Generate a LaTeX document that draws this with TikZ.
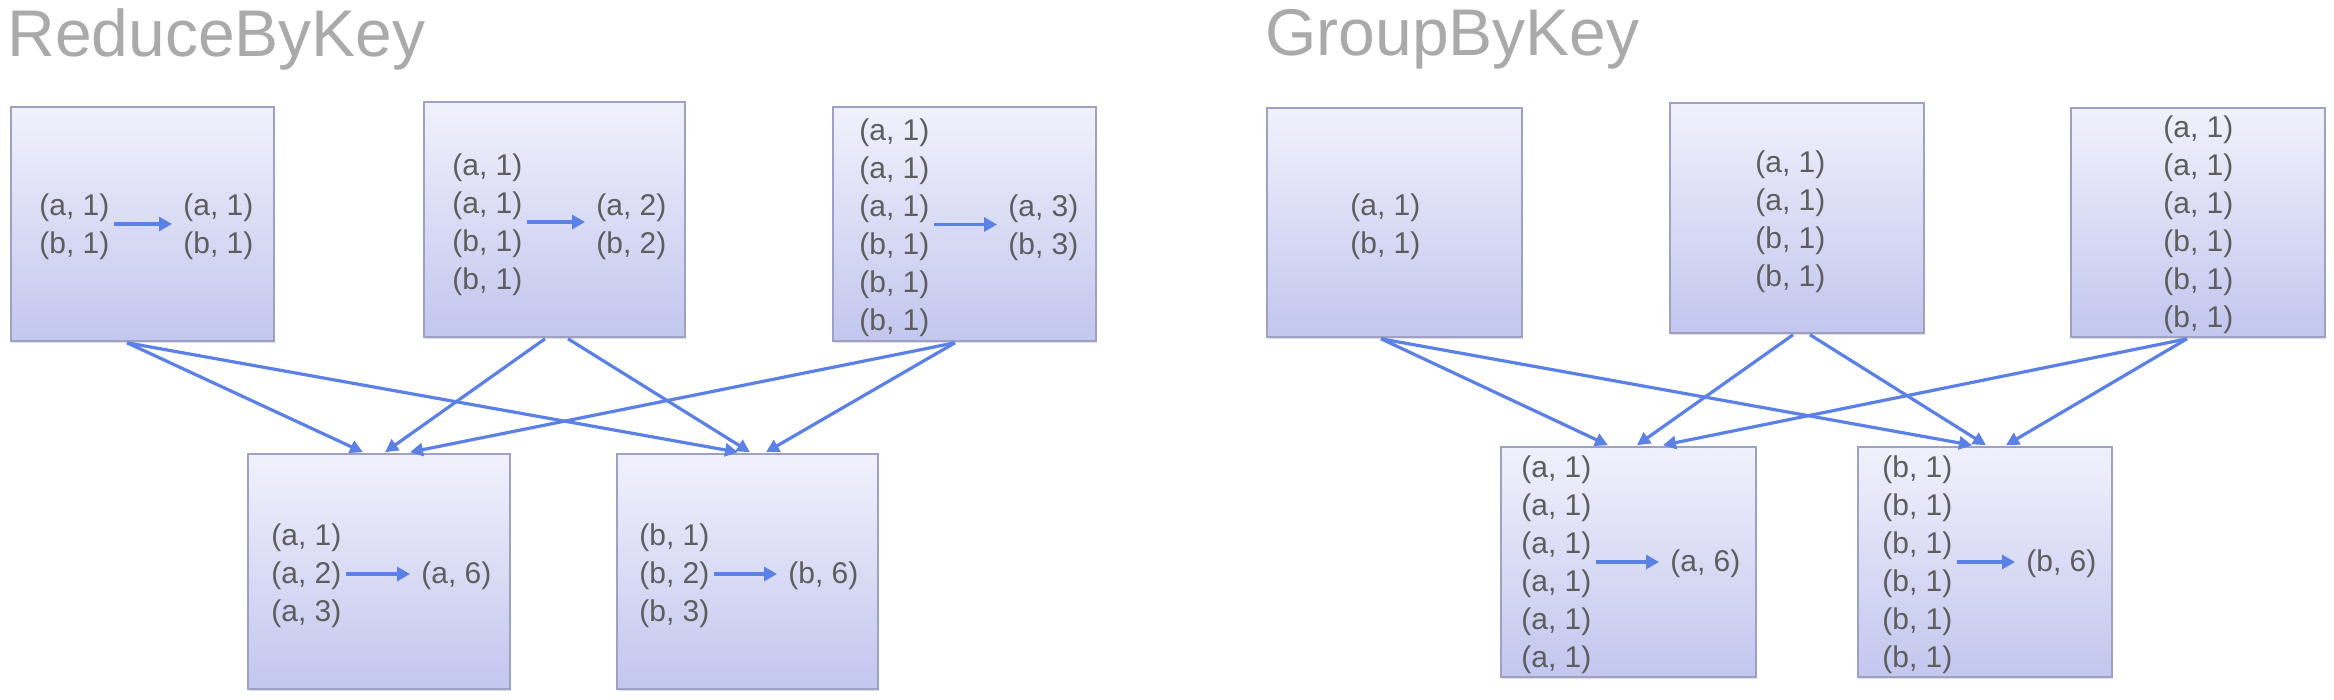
\documentclass[tikz,border=0pt]{standalone}
\usepackage{fontspec}
\setmainfont{Liberation Sans}
\usetikzlibrary{arrows.meta,shadows}
\definecolor{boxtop}{HTML}{F1F1FC}
\definecolor{boxbot}{HTML}{C3C6EE}
\definecolor{boxline}{HTML}{9EA0C4}
\definecolor{flow}{HTML}{5B80E6}
\definecolor{txt}{HTML}{5E5E5E}
\definecolor{ttl}{HTML}{AAAAAA}
\begin{document}
\begin{tikzpicture}[x=0.5pt,y=-0.5pt,
 part/.style={draw=boxline, line width=0.8pt, top color=boxtop, bottom color=boxbot, inner sep=0,
   drop shadow={shadow xshift=0.6pt, shadow yshift=-1pt, opacity=0.25}},
 pairs/.style={anchor=west, inner sep=0, align=left, text=txt, font=\fontsize{15}{19}\selectfont},
 title/.style={anchor=base west, inner sep=0, text=ttl, font=\fontsize{33}{38}\selectfont},
 combine/.style={-{Triangle[length=6.5pt,width=7pt]}, draw=flow, line width=1.7pt, shorten <=2pt, shorten >=5.5pt},
 shuffle/.style={-{Triangle[length=6.5pt,width=6.5pt]}, draw=flow, line width=1.6pt}]
\useasboundingbox (0,0) rectangle (2334,700);

% titles
\node[title] (t1) at (7,57) {ReduceByKey};
\node[title] (t2) at (1265,56) {GroupByKey};

% ---------- ReduceByKey boxes ----------
\node[part, minimum width=131.5pt, minimum height=117pt] (b1) at (142.5,224) {};
\node[part, minimum width=130.5pt, minimum height=117.5pt] (b2) at (554.5,219.5) {};
\node[part, minimum width=131.5pt, minimum height=117pt] (b3) at (964.5,224) {};
\node[part, minimum width=131pt, minimum height=117.5pt] (b4) at (379,571.5) {};
\node[part, minimum width=130.5pt, minimum height=117.5pt] (b5) at (747.5,571.5) {};

% ---------- GroupByKey boxes ----------
\node[part, minimum width=127.5pt, minimum height=114.5pt] (b6) at (1394.5,222.5) {};
\node[part, minimum width=127pt, minimum height=115pt] (b7) at (1797,218) {};
\node[part, minimum width=127pt, minimum height=114.5pt] (b8) at (2198,222.5) {};
\node[part, minimum width=127.5pt, minimum height=115pt] (b9) at (1628.5,562) {};
\node[part, minimum width=127pt, minimum height=115pt] (b10) at (1985,562) {};

% ---------- texts, ReduceByKey ----------
\node[pairs] (l1) at (39,227) {(a, 1)\\(b, 1)};
\node[pairs] (r1) at (183,227) {(a, 1)\\(b, 1)};
\node[pairs] (l2) at (452,225) {(a, 1)\\(a, 1)\\(b, 1)\\(b, 1)};
\node[pairs] (r2) at (596,227) {(a, 2)\\(b, 2)};
\node[pairs] (l3) at (859,227.5) {(a, 1)\\(a, 1)\\(a, 1)\\(b, 1)\\(b, 1)\\(b, 1)};
\node[pairs] (r3) at (1008,227.5) {(a, 3)\\(b, 3)};
\node[pairs] (l4) at (271,576) {(a, 1)\\(a, 2)\\(a, 3)};
\node[pairs] (r4) at (421,576) {(a, 6)};
\node[pairs] (l5) at (639,576) {(b, 1)\\(b, 2)\\(b, 3)};
\node[pairs] (r5) at (788,576) {(b, 6)};

% ---------- texts, GroupByKey ----------
\node[pairs] (l6) at (1350,226.5) {(a, 1)\\(b, 1)};
\node[pairs] (l7) at (1755,221.5) {(a, 1)\\(a, 1)\\(b, 1)\\(b, 1)};
\node[pairs] (l8) at (2163,224.5) {(a, 1)\\(a, 1)\\(a, 1)\\(b, 1)\\(b, 1)\\(b, 1)};
\node[pairs] (l9) at (1521,565) {(a, 1)\\(a, 1)\\(a, 1)\\(a, 1)\\(a, 1)\\(a, 1)};
\node[pairs] (r9) at (1670,564) {(a, 6)};
\node[pairs] (l10) at (1882,565) {(b, 1)\\(b, 1)\\(b, 1)\\(b, 1)\\(b, 1)\\(b, 1)};
\node[pairs] (r10) at (2026,564) {(b, 6)};

% ---------- combine arrows inside boxes ----------
\draw[combine] ([yshift=1.5pt]l1.east) -- ([yshift=1.5pt]r1.west |- l1.east);
\draw[combine] ([yshift=1.5pt]l2.east) -- ([yshift=1.5pt]r2.west |- l2.east);
\draw[combine] ([yshift=1.5pt]l3.east) -- ([yshift=1.5pt]r3.west |- l3.east);
\draw[combine] ([yshift=1pt]l4.east) -- ([yshift=1pt]r4.west |- l4.east);
\draw[combine] ([yshift=1pt]l5.east) -- ([yshift=1pt]r5.west |- l5.east);
\draw[combine] ([yshift=1.5pt]l9.east) -- ([yshift=1.5pt]r9.west |- l9.east);
\draw[combine] ([yshift=1.5pt]l10.east) -- ([yshift=1.5pt]r10.west |- l10.east);

% ---------- shuffle, ReduceByKey ----------
\draw[shuffle] ([xshift=-7.75pt,yshift=-0.5pt]b1.south) -- ([xshift=-8pt,yshift=0.5pt]b4.north);
\draw[shuffle] ([xshift=-7.75pt,yshift=-0.5pt]b1.south) -- ([xshift=-4.75pt,yshift=0.5pt]b5.north);
\draw[shuffle] ([xshift=-4.75pt,yshift=-0.5pt]b2.south) -- ([xshift=3pt,yshift=0.5pt]b4.north);
\draw[shuffle] ([xshift=6.75pt,yshift=-0.5pt]b2.south) -- ([xshift=1.25pt,yshift=0.5pt]b5.north);
\draw[shuffle] ([xshift=-4.75pt,yshift=-0.5pt]b3.south) -- ([xshift=15.5pt,yshift=0.5pt]b4.north);
\draw[shuffle] ([xshift=-4.75pt,yshift=-0.5pt]b3.south) -- ([xshift=9.25pt,yshift=0.5pt]b5.north);

% ---------- shuffle, GroupByKey ----------
\draw[shuffle] ([xshift=-6.75pt,yshift=-0.5pt]b6.south) -- ([xshift=-10.25pt,yshift=0.5pt]b9.north);
\draw[shuffle] ([xshift=-6.75pt,yshift=-0.5pt]b6.south) -- ([xshift=-6.5pt,yshift=0.5pt]b10.north);
\draw[shuffle] ([xshift=-2pt,yshift=-0.5pt]b7.south) -- ([xshift=4.25pt,yshift=0.5pt]b9.north);
\draw[shuffle] ([xshift=6.5pt,yshift=-0.5pt]b7.south) -- ([xshift=0.5pt,yshift=0.5pt]b10.north);
\draw[shuffle] ([xshift=-5.5pt,yshift=-0.5pt]b8.south) -- ([xshift=17.25pt,yshift=0.5pt]b9.north);
\draw[shuffle] ([xshift=-5.5pt,yshift=-0.5pt]b8.south) -- ([xshift=10.5pt,yshift=0.5pt]b10.north);
\end{tikzpicture}
\end{document}
